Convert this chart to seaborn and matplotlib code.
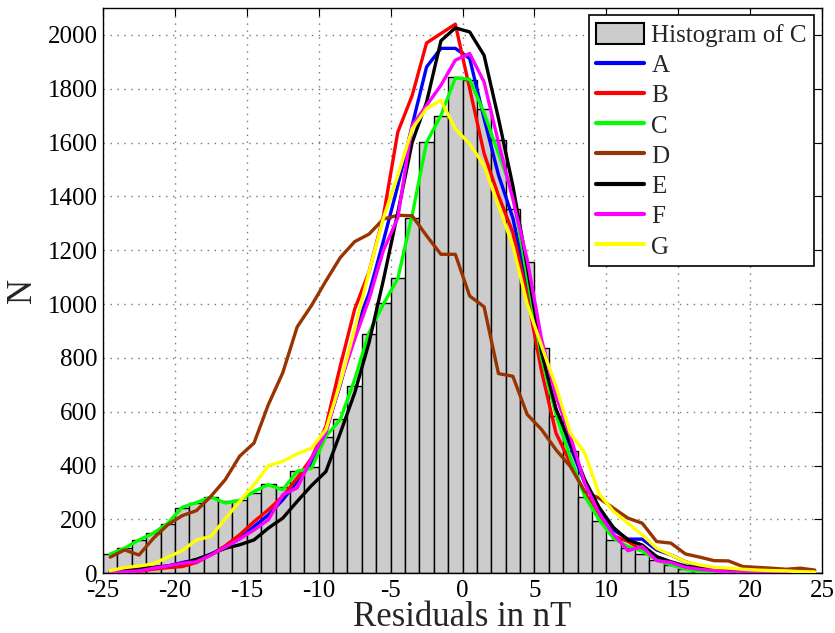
import numpy as np
import pandas as pd
import matplotlib
matplotlib.use("Agg")
import matplotlib.pyplot as plt
from matplotlib.patches import Patch
from matplotlib.lines import Line2D
import seaborn as sns

# ---- data (bin width 1 nT, bin edges -25..25, lines at bin centres) ----
bin_edges = list(range(-25, 26))
centers = [e + 0.5 for e in range(-25, 25)]

hist_C = [72, 95, 124, 149, 183, 242, 260, 283, 267, 272,
          300, 331, 320, 381, 395, 506, 573, 695, 890, 1003,
          1096, 1320, 1604, 1698, 1843, 1833, 1726, 1608, 1353, 1155,
          838, 583, 453, 285, 196, 124, 95, 72, 50, 31,
          15, 7, 3, 2, 1, 1, 0, 0, 0, 0]

A = [5, 10, 15, 21, 27, 40, 50, 71, 99, 130,
     174, 217, 273, 341, 410, 530, 700, 900, 1040, 1235,
     1440, 1664, 1881, 1950, 1950, 1912, 1690, 1480, 1320, 1070,
     800, 610, 472, 335, 223, 161, 127, 127, 87, 68,
     43, 27, 19, 12, 6, 3, 2, 1, 1, 0]

B = [2, 5, 8, 15, 21, 25, 40, 68, 102, 143,
     192, 236, 286, 354, 428, 546, 770, 981, 1120, 1328,
     1639, 1775, 1970, 2005, 2040, 1800, 1560, 1403, 1266, 1030,
     750, 521, 410, 298, 210, 140, 118, 87, 56, 37,
     19, 10, 5, 2, 1, 0, 0, 0, 0, 0]

C = [72, 93, 124, 149, 186, 245, 263, 283, 261, 271,
     304, 329, 310, 379, 390, 509, 571, 720, 894, 1000,
     1095, 1330, 1601, 1701, 1840, 1835, 1710, 1560, 1410, 1100,
     800, 590, 430, 286, 199, 130, 100, 82, 50, 31,
     15, 6, 3, 1, 1, 0, 0, 0, 0, 0]

D = [60, 87, 68, 130, 180, 214, 233, 286, 348, 435,
     484, 627, 745, 915, 995, 1086, 1173, 1232, 1260, 1316,
     1330, 1328, 1254, 1185, 1185, 1030, 990, 742, 732, 590,
     534, 459, 397, 304, 279, 242, 205, 186, 118, 112,
     72, 60, 47, 46, 25, 22, 19, 15, 19, 12]

E = [6, 12, 19, 22, 27, 37, 52, 71, 93, 106,
     124, 168, 205, 267, 326, 378, 521, 670, 857, 1090,
     1340, 1601, 1750, 1978, 2026, 2011, 1924, 1690, 1440, 1140,
     820, 610, 484, 348, 245, 170, 124, 105, 62, 43,
     27, 19, 12, 7, 4, 2, 1, 0, 0, 0]

F = [2, 6, 9, 19, 27, 37, 43, 68, 97, 127,
     161, 199, 292, 317, 428, 521, 708, 869, 1018, 1200,
     1320, 1664, 1738, 1813, 1906, 1931, 1825, 1600, 1390, 1165,
     869, 658, 509, 335, 223, 145, 84, 99, 47, 40,
     22, 15, 10, 5, 3, 2, 1, 1, 0, 0]

G = [10, 21, 27, 35, 60, 84, 124, 137, 202, 267,
     329, 400, 416, 444, 465, 534, 708, 906, 1120, 1320,
     1477, 1651, 1726, 1757, 1651, 1595, 1515, 1366, 1217, 1000,
     844, 695, 521, 447, 295, 230, 186, 143, 93, 68,
     43, 31, 22, 19, 15, 12, 10, 9, 6, 5]

series_names = ["A", "B", "C", "D", "E", "F", "G"]
series_values = [A, B, C, D, E, F, G]
series_colors = ["#0000ff", "#ff0000", "#00ff00", "#993300",
                 "#000000", "#ff00ff", "#ffff00"]

x_ticks = list(range(-25, 26, 5))
y_ticks = list(range(0, 2001, 200))

# ---- style ----
sns.set_style("white")
plt.rcParams["font.family"] = ["Liberation Serif", "DejaVu Serif"]
plt.rcParams["axes.unicode_minus"] = False

fig = plt.figure(figsize=(8.35, 6.33), dpi=100)
ax = fig.add_axes([0.1234, 0.0943, 0.861, 0.8931])

sns.histplot(x=centers, weights=hist_C, bins=bin_edges, ax=ax,
             color="#cccccc", edgecolor="black", linewidth=1.0,
             alpha=1.0, zorder=2)

for name, vals, col in zip(series_names, series_values, series_colors):
    df = pd.DataFrame({"x": centers, "y": vals})
    sns.lineplot(data=df, x="x", y="y", ax=ax, color=col,
                 linewidth=2.4, zorder=3, legend=False)

ax.set_xlim(-25, 25)
ax.set_ylim(0, 2100)
ax.set_xticks(x_ticks)
ax.set_yticks(y_ticks)
ax.set_axisbelow(True)
ax.grid(True, linestyle=(0, (1, 4)), color="#777777", linewidth=1.0)
ax.tick_params(direction="in", length=6, width=0.8, top=True, right=True,
               labelsize=18, colors="black")
ax.tick_params(axis="x", pad=5)
ax.tick_params(axis="y", pad=4)
for sp in ax.spines.values():
    sp.set_visible(True)
    sp.set_color("black")
    sp.set_linewidth(1.0)

ax.set_xlabel("Residuals in nT", fontsize=25, labelpad=-1)
ax.set_ylabel("N", fontsize=25, labelpad=6)

handles = [Patch(facecolor="#cccccc", edgecolor="black", linewidth=1.5)]
labels = ["Histogram of C"]
for name, col in zip(series_names, series_colors):
    handles.append(Line2D([0], [0], color=col, linewidth=3))
    labels.append(name)

leg = ax.legend(handles, labels, loc="upper right", fontsize=18,
                frameon=True, fancybox=False, framealpha=1,
                edgecolor="black", borderaxespad=0.3,
                handlelength=1.9, handleheight=0.9, handletextpad=0.3,
                labelspacing=0.25, borderpad=0.3)
leg.get_frame().set_linewidth(1.2)

fig.savefig("out.png", dpi=100)
